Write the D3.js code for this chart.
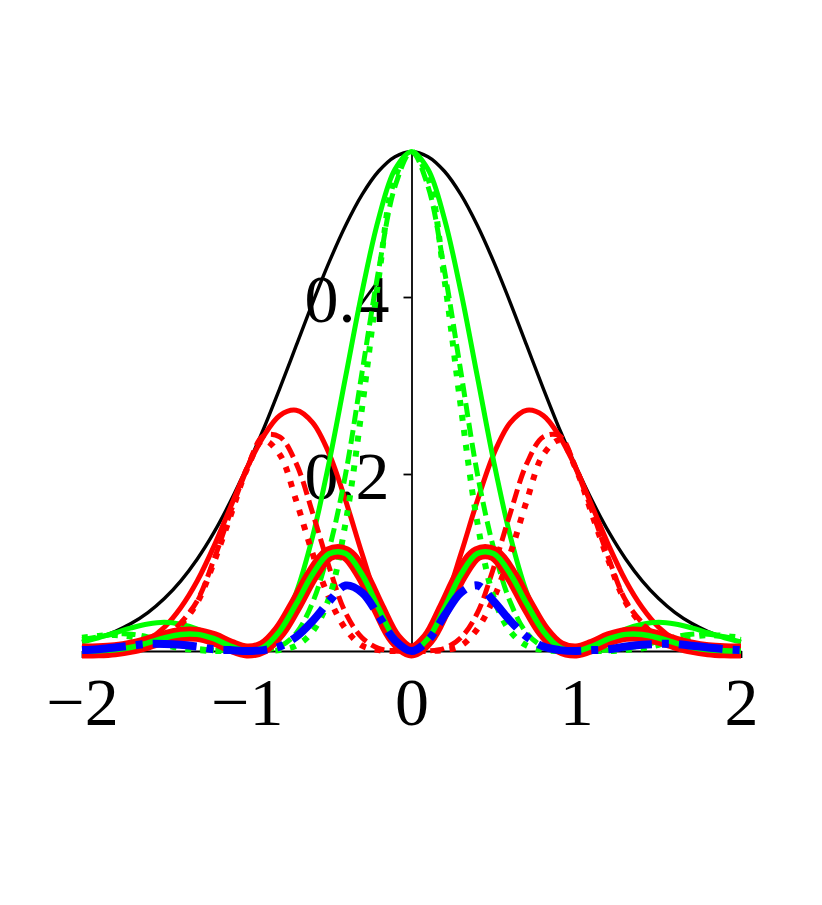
<!DOCTYPE html>
<html>
<head>
<meta charset="utf-8">
<script src="https://cdn.jsdelivr.net/npm/d3@7"></script>
<style>
  body { margin: 0; background: #ffffff; }
  svg { display: block; }
</style>
</head>
<body>
<div id="chart"></div>
<script>
var w = 822;
var h = 905;

// sample positions along x
var xs = [-2.0,-1.9,-1.8,-1.7,-1.6,-1.5,-1.4,-1.3,-1.2,-1.1,-1.0,-0.9,-0.8,-0.7,-0.6,-0.5,-0.4,-0.3,-0.2,-0.1,0.0,
          0.1,0.2,0.3,0.4,0.5,0.6,0.7,0.8,0.9,1.0,1.1,1.2,1.3,1.4,1.5,1.6,1.7,1.8,1.9,2.0];

var xTicks = [-2, -1, 0, 1, 2];
var xTickLabels = ["\u22122", "\u22121", "0", "1", "2"];
var yTicks = [0.2, 0.4];
var yTickLabels = ["0.2", "0.4"];

// black envelope
var blackSolid = [0.0103,0.0152,0.0221,0.0313,0.0434,0.0593,0.0793,0.1040,0.1337,0.1685,0.2076,0.2500,0.2965,0.3450,0.3935,0.4394,0.4808,0.5157,0.5421,0.5586,0.5642,
                  0.5586,0.5421,0.5157,0.4808,0.4394,0.3935,0.3450,0.2965,0.2500,0.2076,0.1685,0.1337,0.1040,0.0793,0.0593,0.0434,0.0313,0.0221,0.0152,0.0103];
// narrow green peaks
var greenSolid = [0.0103,0.0150,0.0206,0.0261,0.0305,0.0324,0.0302,0.0247,0.0157,0.0059,0.0002,0.0042,0.0244,0.0657,0.1295,0.2133,0.3098,0.4059,0.4883,0.5444,0.5642,
                  0.5444,0.4883,0.4059,0.3098,0.2133,0.1295,0.0657,0.0244,0.0042,0.0002,0.0059,0.0157,0.0247,0.0302,0.0324,0.0305,0.0261,0.0206,0.0150,0.0103];
var greenDash = [0.013,0.016,0.019,0.019,0.016,0.011,0.006,0.003,0.001,0.001,0.001,0.001,0.005,0.020,0.055,0.115,0.200,0.315,0.430,0.525,0.5642,
                 0.525,0.430,0.315,0.200,0.115,0.055,0.020,0.005,0.001,0.001,0.001,0.001,0.003,0.006,0.011,0.016,0.019,0.019,0.016,0.013];
var greenDot = [0.015,0.017,0.018,0.016,0.012,0.007,0.003,0.001,0,0,0,0,0.001,0.006,0.022,0.060,0.145,0.275,0.420,0.535,0.5642,
                0.535,0.420,0.275,0.145,0.060,0.022,0.006,0.001,0,0,0,0,0.001,0.003,0.007,0.012,0.016,0.018,0.017,0.015];
// red side lobes
var redSolid = [0,0.0002,0.0015,0.0052,0.0129,0.0269,0.0491,0.0793,0.1180,0.1620,0.2060,0.2420,0.2660,0.2720,0.2580,0.2230,0.1700,0.1098,0.0538,0.0142,0,
                0.0142,0.0538,0.1098,0.1700,0.2230,0.2580,0.2720,0.2660,0.2420,0.2060,0.1620,0.1180,0.0793,0.0491,0.0269,0.0129,0.0052,0.0015,0.0002,0];
var redDash = [0.003,0.003,0.003,0.004,0.007,0.015,0.032,0.057,0.103,0.156,0.205,0.243,0.242,0.212,0.156,0.095,0.043,0.015,0.003,0,0,
               0,0.003,0.015,0.043,0.095,0.156,0.212,0.242,0.243,0.205,0.156,0.103,0.057,0.032,0.015,0.007,0.004,0.003,0.003,0.003];
var redDot = [0.003,0.004,0.004,0.005,0.008,0.015,0.030,0.055,0.100,0.152,0.205,0.238,0.222,0.170,0.110,0.060,0.025,0.006,0.001,0,0,
              0,0.001,0.006,0.025,0.060,0.110,0.170,0.222,0.238,0.205,0.152,0.100,0.055,0.030,0.015,0.008,0.005,0.004,0.004,0.003];
// small double-hump
var smallBump = [0,0.0002,0.0014,0.0043,0.0091,0.0147,0.0187,0.0188,0.0139,0.0057,0,0.0041,0.0224,0.0532,0.0869,0.1098,0.1102,0.0864,0.0485,0.0138,0,
                 0.0138,0.0485,0.0864,0.1102,0.1098,0.0869,0.0532,0.0224,0.0041,0,0.0057,0.0139,0.0188,0.0187,0.0147,0.0091,0.0043,0.0014,0.0002,0];
var blueDash = [0.001,0.002,0.004,0.006,0.008,0.008,0.007,0.005,0.002,0.001,0,0.001,0.005,0.016,0.034,0.056,0.074,0.066,0.040,0.012,0,
                0.012,0.040,0.066,0.074,0.056,0.034,0.016,0.005,0.001,0,0.001,0.002,0.005,0.007,0.008,0.008,0.006,0.004,0.002,0.001];

var svg = d3.select("#chart")
  .append("svg")
  .attr("width", w)
  .attr("height", h)
  .style("background", "#ffffff");

var x = d3.scaleLinear().domain([-2, 2]).range([82, 741]);
var y = d3.scaleLinear().domain([0, 0.5642]).range([651, 151.7]);

var line = d3.line()
  .x(function(d){ return x(d[0]); })
  .y(function(d){ return y(d[1]); })
  .curve(d3.curveCatmullRom.alpha(0.5));

function pts(vals){
  return xs.map(function(v, i){ return [v, vals[i]]; });
}

// axes first, curves over them
var xAxis = d3.axisBottom(x)
  .tickValues(xTicks)
  .tickSize(7)
  .tickSizeOuter(0)
  .tickFormat(function(d, i){ return xTickLabels[i]; });

var gx = svg.append("g")
  .attr("transform", "translate(0," + y(0) + ")")
  .call(xAxis);
gx.select(".domain").attr("stroke", "#000").attr("stroke-width", 1.8);
gx.selectAll(".tick line").attr("stroke", "#000").attr("stroke-width", 1.8);
gx.selectAll(".tick text")
  .attr("y", 74)
  .attr("dy", 0)
  .attr("fill", "#000")
  .style("font-family", "'Liberation Serif', 'Times New Roman', serif")
  .style("font-size", "68px");

var yAxis = d3.axisLeft(y)
  .tickValues(yTicks)
  .tickSize(8)
  .tickSizeOuter(0)
  .tickFormat(function(d, i){ return yTickLabels[i]; });

var gy = svg.append("g")
  .attr("transform", "translate(" + x(0) + ",0)")
  .call(yAxis);
gy.select(".domain").attr("stroke", "#000").attr("stroke-width", 1.8);
gy.selectAll(".tick line").attr("stroke", "#000").attr("stroke-width", 1.8);
gy.selectAll(".tick text")
  .attr("x", -22)
  .attr("dy", "0.36em")
  .attr("fill", "#000")
  .style("font-family", "'Liberation Serif', 'Times New Roman', serif")
  .style("font-size", "68px");

var curves = [
  {vals: blackSolid, color: "#000000", width: 3.4, dash: null},
  {vals: redSolid,   color: "#ff0000", width: 5,   dash: null},
  {vals: greenSolid, color: "#00ff00", width: 5,   dash: null},
  {vals: redDash,    color: "#ff0000", width: 5,   dash: "14,6"},
  {vals: greenDash,  color: "#00ff00", width: 5,   dash: "14,6"},
  {vals: redDot,     color: "#ff0000", width: 6,   dash: "6,9"},
  {vals: greenDot,   color: "#00ff00", width: 6,   dash: "6,9"},
  {vals: smallBump,  color: "#ff0000", width: 15,  dash: null},
  {vals: smallBump,  color: "#00ff00", width: 5.5, dash: null},
  {vals: blueDash,   color: "#0000ff", width: 8,   dash: "44,10,7,10"}
];

svg.append("g").selectAll("path")
  .data(curves)
  .enter().append("path")
    .attr("d", function(d){ return line(pts(d.vals)); })
    .attr("fill", "none")
    .attr("stroke", function(d){ return d.color; })
    .attr("stroke-width", function(d){ return d.width; })
    .attr("stroke-dasharray", function(d){ return d.dash; })
    .attr("stroke-linecap", "butt")
    .attr("stroke-linejoin", "round");
</script>
</body>
</html>
